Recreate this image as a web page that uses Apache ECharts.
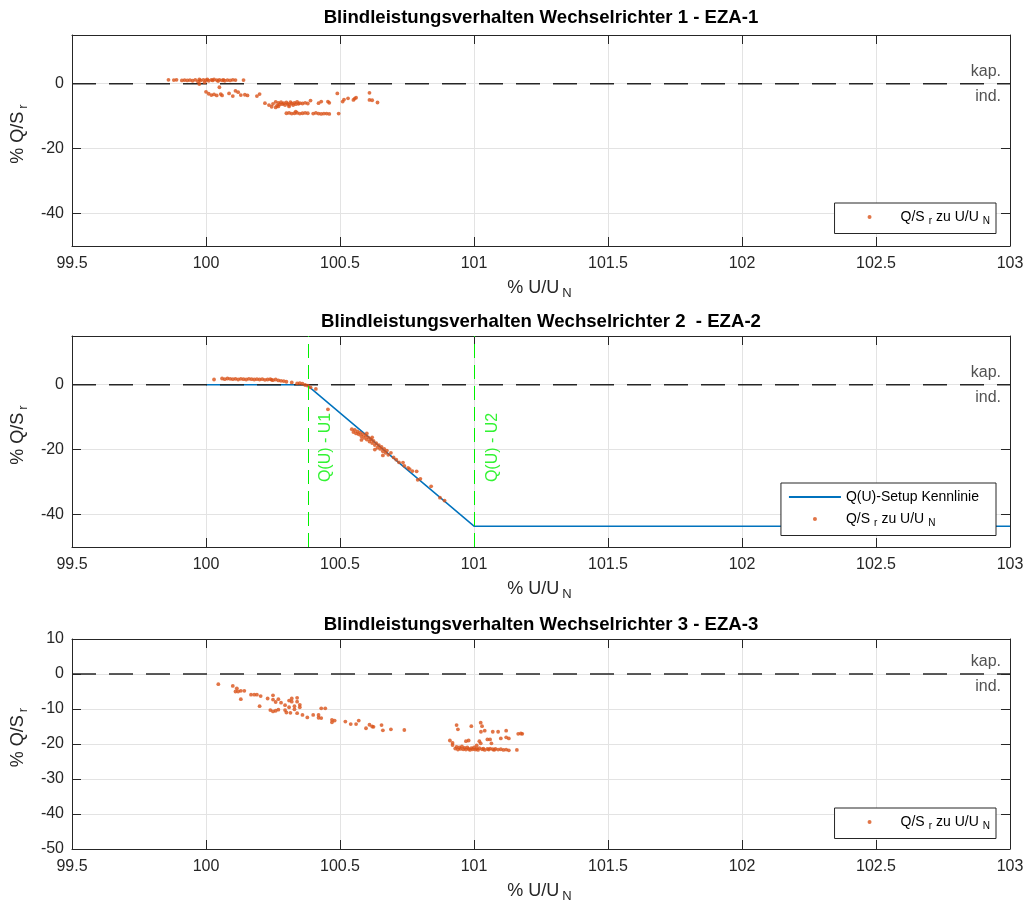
<!DOCTYPE html>
<html>
<head>
<meta charset="utf-8">
<script src="https://cdn.jsdelivr.net/npm/echarts@6/dist/echarts.min.js"></script>
<style>
  html, body { margin: 0; padding: 0; background: #ffffff; }
  #chart { width: 1027px; height: 905px; }
</style>
</head>
<body>
<div id="chart"></div>
<script>
// ---- text ----
const titles = [
  'Blindleistungsverhalten Wechselrichter 1 - EZA-1',
  'Blindleistungsverhalten Wechselrichter 2  - EZA-2',
  'Blindleistungsverhalten Wechselrichter 3 - EZA-3'
];
const quadrantLabels = ['kap.', 'ind.'];
const uLimitNames = ['Q(U) - U1', 'Q(U) - U2'];

// ---- axes ----
const uRange = [99.5, 103];
const uStep = 0.5;
const qRangeTop = [-50, 15];
const qTicksTop = [-40, -20, 0];
const qRangeBottom = [-50, 10];
const qStepBottom = 10;

// ---- EZA-1: measured Q/Sr vs U/UN ----
const u1 = [
  99.86, 99.88, 99.89, 99.91, 99.92, 99.93, 99.94, 99.95, 99.96, 99.97, 99.975, 99.98, 99.99, 99.995,
  100.00, 100.005, 100.01, 100.02, 100.025, 100.03, 100.04, 100.045, 100.05, 100.06, 100.065, 100.07,
  100.08, 100.09, 100.10, 100.11, 100.14, 99.975,
  100.00, 100.01, 100.02, 100.03, 100.04, 100.05, 100.055, 100.06, 100.086, 100.10, 100.11, 100.12,
  100.13, 100.145, 100.155, 100.19, 100.20,
  100.22, 100.235, 100.245, 100.25, 100.26, 100.265, 100.27, 100.275, 100.28, 100.285, 100.29, 100.295,
  100.30, 100.305, 100.31, 100.315, 100.32, 100.325, 100.33, 100.335, 100.34, 100.345, 100.35, 100.36,
  100.37, 100.38, 100.39, 100.26, 100.31, 100.27,
  100.30, 100.31, 100.32, 100.33, 100.335, 100.34, 100.35, 100.36, 100.37, 100.38, 100.40, 100.41,
  100.42, 100.43, 100.44, 100.45, 100.46, 100.495,
  100.42, 100.43, 100.455, 100.46, 100.49, 100.51, 100.515, 100.53, 100.55, 100.555, 100.56, 100.61,
  100.61, 100.62, 100.64
];
const q1 = [
  1.2, 1.1, 1.2, 1.0, 1.1, 1.0, 1.1, 0.9, 1.2, 0.7, 1.3, 1.0, 1.2, 0.4,
  1.1, 1.3, 0.9, 1.2, 1.0, 1.3, 1.1, 0.8, 1.2, 1.0, 1.2, 0.9,
  1.1, 1.0, 1.2, 1.1, 1.1, -0.1,
  -2.5, -3.1, -3.5, -3.3, -3.6, -1.1, -3.2, -3.6, -3.0, -3.8, -2.2, -2.6,
  -3.5, -3.4, -3.6, -3.8, -3.2,
  -6.0, -6.6, -7.1, -6.2, -5.6, -6.8, -5.9, -6.4, -5.7, -6.3, -6.0, -6.6,
  -5.8, -6.2, -6.5, -5.7, -6.1, -6.6, -5.9, -6.3, -5.6, -6.2, -6.0, -6.1,
  -5.9, -6.1, -5.2, -7.3, -7.0, -7.0,
  -9.1, -9.0, -9.2, -9.1, -8.6, -9.0, -9.2, -9.1, -9.0, -9.1, -9.2, -9.0,
  -9.2, -9.3, -9.2, -9.2, -9.3, -9.2,
  -6.0, -5.5, -5.5, -5.9, -3.0, -5.5, -4.9, -4.5, -5.0, -4.6, -4.3, -2.8,
  -5.0, -5.1, -5.8
];

// ---- EZA-2: measured Q/Sr vs U/UN ----
const u2 = [
  100.03, 100.06, 100.07, 100.08, 100.09, 100.10, 100.11, 100.12, 100.13, 100.14, 100.15, 100.16,
  100.17, 100.18, 100.19, 100.20, 100.21, 100.22, 100.23, 100.24, 100.245, 100.25, 100.26, 100.27,
  100.28, 100.29, 100.30, 100.32, 100.34, 100.35, 100.36, 100.37, 100.38, 100.39, 100.41, 100.455,
  100.544, 100.55, 100.555, 100.56, 100.565, 100.57, 100.575, 100.58, 100.585, 100.59, 100.595, 100.60,
  100.605, 100.61, 100.615, 100.62, 100.625, 100.63, 100.635, 100.64, 100.645, 100.65, 100.655, 100.66,
  100.665, 100.67, 100.675, 100.68, 100.69, 100.70, 100.71, 100.72, 100.735, 100.74, 100.754, 100.76,
  100.77, 100.786, 100.79, 100.80, 100.84, 100.873, 100.89, 100.58, 100.60, 100.62, 100.66, 100.63
];
const q2 = [
  1.6, 1.9, 1.7, 1.9, 1.8, 1.7, 1.8, 1.6, 1.8, 1.7, 1.6, 1.8,
  1.7, 1.6, 1.7, 1.6, 1.7, 1.5, 1.6, 1.7, 1.5, 1.4, 1.6, 1.3,
  1.2, 1.1, 0.9, 0.7, 0.4, 0.5, 0.3, -0.1, -0.3, -0.8, -1.3, -7.6,
  -13.7, -14.6, -13.9, -15.0, -14.4, -15.3, -14.8, -15.9, -15.2, -16.4, -15.7, -16.9,
  -16.2, -17.5, -16.8, -18.0, -17.3, -18.6, -18.0, -19.4, -18.6, -19.8, -19.2, -20.5,
  -19.8, -21.0, -20.3, -21.6, -21.0, -22.4, -23.1, -23.9, -24.0, -25.0, -25.6, -26.0,
  -26.6, -26.7, -29.3, -29.0, -31.3, -34.8, -35.7, -17.0, -15.0, -16.2, -21.8, -20.0
];

// ---- EZA-2: configured Q(U) characteristic ----
const setupU = [100.0, 100.375, 101.0, 103.0];
const setupQ = [0, 0, -43.59, -43.59];
const uLimits = [100.375, 101.0];
const uLimitLabelQ = -30;

// ---- EZA-3: measured Q/Sr vs U/UN ----
const u3 = [
  100.046, 100.10, 100.115, 100.12, 100.11, 100.13, 100.143, 100.13, 100.168, 100.18, 100.19, 100.204,
  100.20, 100.23, 100.25, 100.25, 100.26, 100.27, 100.28, 100.24, 100.25, 100.26, 100.27, 100.295,
  100.295, 100.30, 100.31, 100.31, 100.315, 100.32, 100.32, 100.33, 100.33, 100.34, 100.34, 100.34,
  100.35, 100.35, 100.36, 100.378, 100.40, 100.42, 100.42, 100.43, 100.43, 100.445, 100.47, 100.47,
  100.48, 100.52, 100.54, 100.56, 100.57, 100.597, 100.61, 100.62, 100.625, 100.655, 100.66, 100.69,
  100.74,
  100.935, 100.94, 100.99, 101.025, 101.03, 101.026, 101.04, 101.07, 101.09, 101.12, 101.165, 101.18,
  101.175,
  100.91, 100.92, 100.97, 100.98, 101.02, 101.025, 101.05, 101.06, 101.065, 101.10, 101.12, 101.13,
  100.93, 100.935, 100.94, 100.945, 100.95, 100.955, 100.96, 100.965, 100.97, 100.975, 100.98, 100.985,
  100.99, 100.995, 101.00, 101.005, 101.01, 101.015, 101.02, 101.03, 101.035, 101.04, 101.05, 101.055,
  101.06, 101.07, 101.075, 101.08, 101.09, 101.10, 101.11, 101.12, 101.13, 101.16, 100.92, 101.01
];
const q3 = [
  -2.9, -3.4, -4.1, -5.0, -5.0, -4.8, -4.8, -7.2, -5.9, -5.9, -5.9, -6.3,
  -9.2, -7.0, -6.1, -7.3, -8.0, -7.2, -8.2, -10.3, -10.7, -10.5, -10.2, -8.9,
  -10.3, -11.0, -7.6, -9.5, -11.1, -7.9, -7.0, -9.2, -10.1, -11.2, -6.8, -7.9,
  -8.8, -9.5, -11.7, -12.4, -11.7, -11.7, -12.5, -12.6, -9.8, -9.8, -13.1, -13.8,
  -13.3, -13.6, -14.3, -14.3, -13.3, -15.5, -14.5, -15.0, -15.1, -14.6, -16.1, -15.8,
  -16.0,
  -14.6, -15.8, -14.9, -13.9, -14.9, -16.5, -16.2, -16.5, -16.5, -16.2, -17.1, -17.1,
  -17.0,
  -19.0, -19.7, -19.2, -19.0, -19.2, -19.8, -18.7, -18.7, -19.8, -18.4, -18.1, -18.4,
  -21.3, -20.8, -21.6, -21.0, -21.4, -20.7, -21.5, -21.1, -21.6, -21.0, -21.4, -21.7,
  -21.2, -21.5, -21.0, -21.6, -21.3, -21.7, -21.2, -21.5, -21.3, -21.7, -21.4, -21.6,
  -21.3, -21.5, -21.7, -21.4, -21.6, -21.5, -21.7, -21.6, -21.8, -21.7, -20.3, -20.4
];

// ---- styling ----
const FONT = '"Liberation Sans", Arial, Helvetica, sans-serif';
const AXIS_COLOR = '#262626';
const GRID_COLOR = '#e3e3e3';
const DOT_COLOR = '#D95319';
const LINE_COLOR = '#0072BD';
const LIMIT_COLOR = '#00f000';

const pairs = (u, q) => u.map((x, i) => [x, q[i]]);

// main text + lowered subscript
const subRich = (size, sub, drop, color, gap) => ({
  a: { fontFamily: FONT, fontSize: size, color },
  s: { fontFamily: FONT, fontSize: sub, color, padding: [drop, gap, 0, gap] }
});

const gridBoxes = [
  { left: 72, right: 17, top: 35, height: 211 },
  { left: 72, right: 17, top: 336, height: 211 },
  { left: 72, right: 17, top: 639, height: 210 }
];

const xAxes = [];
const yAxes = [];
gridBoxes.forEach((g, gi) => {
  const tick = { inside: true, length: 9, lineStyle: { color: AXIS_COLOR, width: 1 } };
  const line = { onZero: false, lineStyle: { color: AXIS_COLOR, width: 1 } };
  xAxes.push({
    type: 'value', gridIndex: gi, position: 'bottom',
    min: uRange[0], max: uRange[1], interval: uStep,
    axisLine: line, axisTick: tick,
    axisLabel: { color: AXIS_COLOR, fontFamily: FONT, fontSize: 16, margin: 10 },
    splitLine: { show: true, lineStyle: { color: GRID_COLOR, width: 1 } },
    name: '{a|% U/U}{s|N}', nameLocation: 'middle', nameGap: 30,
    nameTextStyle: { rich: subRich(18, 13, 11, AXIS_COLOR, 3) }
  });
  xAxes.push({
    type: 'value', gridIndex: gi, position: 'top',
    min: uRange[0], max: uRange[1], interval: uStep,
    axisLine: line, axisTick: tick, axisLabel: { show: false }, splitLine: { show: false }
  });
  const isTop = gi < 2;
  const yBase = isTop
    ? { min: qRangeTop[0], max: qRangeTop[1] }
    : { min: qRangeBottom[0], max: qRangeBottom[1], interval: qStepBottom };
  const yTick = isTop ? Object.assign({ customValues: qTicksTop }, tick) : tick;
  yAxes.push(Object.assign({
    type: 'value', gridIndex: gi, position: 'left',
    axisLine: line, axisTick: yTick,
    axisLabel: Object.assign({ color: AXIS_COLOR, fontFamily: FONT, fontSize: 16, margin: 8 },
      isTop ? { customValues: qTicksTop } : {}),
    splitLine: { show: true, lineStyle: { color: GRID_COLOR, width: 1 } },
    name: '{a|% Q/S}{s|r}', nameLocation: 'middle', nameGap: 37, nameRotate: 90,
    nameTextStyle: { rich: subRich(18, 13, 11, AXIS_COLOR, 3), padding: [0, 0, 0, 16] }
  }, yBase));
  yAxes.push(Object.assign({
    type: 'value', gridIndex: gi, position: 'right',
    axisLine: line, axisTick: yTick, axisLabel: { show: false }, splitLine: { show: false }
  }, yBase));
});

const series = [];
const zeroLine = (gi) => ({
  type: 'line', xAxisIndex: gi * 2, yAxisIndex: gi * 2, silent: true, symbol: 'none', z: 3,
  data: [[uRange[0], 0], [uRange[1], 0]],
  lineStyle: { color: AXIS_COLOR, width: 1.4, type: [24, 13] }
});
const quadrantText = (gi) => ({
  type: 'scatter', xAxisIndex: gi * 2, yAxisIndex: gi * 2, silent: true, symbolSize: 0, z: 6,
  data: [
    { value: [uRange[1], 0], label: { formatter: quadrantLabels[0], offset: [0, -12] } },
    { value: [uRange[1], 0], label: { formatter: quadrantLabels[1], offset: [0, 13] } }
  ],
  label: { show: true, position: 'left', distance: 9, color: AXIS_COLOR, fontFamily: FONT, fontSize: 16 }
});
const dots = (gi, name, u, q) => ({
  type: 'scatter', name, xAxisIndex: gi * 2, yAxisIndex: gi * 2, z: 4,
  symbol: 'circle', symbolSize: 3.8, itemStyle: { color: DOT_COLOR },
  data: pairs(u, q)
});

series.push(zeroLine(0), quadrantText(0), dots(0, 'meas1', u1, q1));

series.push({
  type: 'line', name: 'setup', xAxisIndex: 2, yAxisIndex: 2, symbol: 'none', showSymbol: false, z: 2,
  data: pairs(setupU, setupQ),
  lineStyle: { color: LINE_COLOR, width: 1.5 },
  itemStyle: { color: LINE_COLOR },
  markLine: {
    silent: true, symbol: 'none', label: { show: false },
    lineStyle: { color: LIMIT_COLOR, width: 1, type: [14, 7] },
    data: uLimits.map(v => ({ xAxis: v }))
  }
});
series.push(zeroLine(1), quadrantText(1), dots(1, 'meas2', u2, q2));
series.push({
  type: 'scatter', xAxisIndex: 2, yAxisIndex: 2, silent: true, symbolSize: 0, z: 6,
  data: uLimits.map((v, i) => ({ value: [v, uLimitLabelQ], label: { formatter: uLimitNames[i] } })),
  label: {
    show: true, position: 'right', distance: 11, rotate: 90, align: 'left', verticalAlign: 'top',
    color: LIMIT_COLOR, fontFamily: FONT, fontSize: 16
  }
});

series.push(zeroLine(2), quadrantText(2), dots(2, 'meas3', u3, q3));

const legendText = {
  meas1: '{a|Q/S}{s|r}{a|zu U/U}{s|N}',
  meas2: '{a|Q/S}{s|r}{a|zu U/U}{s|N}',
  meas3: '{a|Q/S}{s|r}{a|zu U/U}{s|N}',
  setup: '{a|Q(U)-Setup Kennlinie}'
};
const legendBase = {
  orient: 'vertical', right: 31, selectedMode: false,
  backgroundColor: '#ffffff', borderColor: AXIS_COLOR, borderWidth: 1, borderRadius: 0,
  itemWidth: 52, itemHeight: 4, itemGap: 8,
  formatter: n => legendText[n],
  textStyle: { rich: subRich(14, 10, 9, '#000000', 4) }
};

const option = {
  animation: false,
  backgroundColor: '#ffffff',
  title: titles.map((t, i) => ({
    text: t, left: 541, textAlign: 'center', top: [8, 312, 615][i], padding: 0,
    textStyle: { fontFamily: FONT, fontSize: 18.6, fontWeight: 'bold', color: '#000000' }
  })),
  grid: gridBoxes,
  xAxis: xAxes,
  yAxis: yAxes,
  legend: [
    Object.assign({ top: 203, data: ['meas1'], padding: [7, 6, 7, 33] }, legendBase),
    Object.assign({
      top: 483, padding: [7, 17, 7, 7],
      data: [{ name: 'setup', itemStyle: { opacity: 0 } }, 'meas2']
    }, legendBase),
    Object.assign({ top: 808, data: ['meas3'], padding: [7, 6, 7, 33] }, legendBase)
  ],
  series
};

const chart = echarts.init(document.getElementById('chart'), null, { renderer: 'canvas' });
chart.setOption(option);
</script>
</body>
</html>
